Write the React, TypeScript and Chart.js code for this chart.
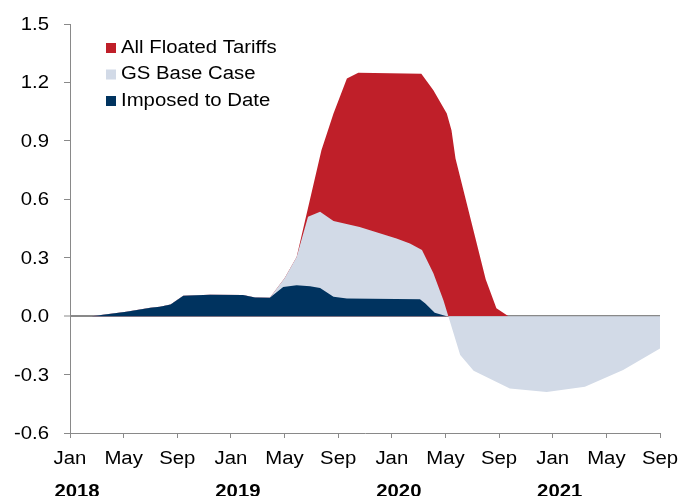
import React, { useEffect, useRef } from "react";
import { Chart, registerables } from "chart.js";

Chart.register(...registerables);

// x values are months since Jan 2018
const ALL_FLOATED_MONTHS = [1.6, 4.2, 6.0, 6.7, 7.5, 8.45, 10.45, 12.9, 13.8, 14.9, 16.0, 16.9, 18.75, 19.65, 20.65, 21.5, 26.2, 27.1, 28.1, 28.45, 28.75, 31.0, 31.8, 32.7];
const ALL_FLOATED_VALUES = [0, 0.022, 0.043, 0.048, 0.06, 0.105, 0.11, 0.108, 0.096, 0.094, 0.194, 0.304, 0.852, 1.04, 1.22, 1.25, 1.245, 1.16, 1.04, 0.955, 0.81, 0.19, 0.04, 0];

const BASE_CASE_MONTHS = [1.6, 4.2, 6.0, 6.7, 7.5, 8.45, 10.45, 12.9, 13.8, 14.9, 16.0, 16.9, 17.75, 18.65, 19.65, 21.6, 24.35, 25.35, 26.25, 27.1, 27.85, 29.1, 30.1, 32.8, 35.55, 38.4, 41.25, 44];
const BASE_CASE_VALUES = [0, 0.022, 0.043, 0.048, 0.06, 0.105, 0.11, 0.108, 0.096, 0.094, 0.194, 0.304, 0.51, 0.536, 0.489, 0.458, 0.399, 0.373, 0.339, 0.22, 0.082, -0.2, -0.28, -0.371, -0.389, -0.363, -0.277, -0.166];

const IMPOSED_MONTHS = [1.6, 4.2, 6.0, 6.7, 7.5, 8.45, 10.45, 12.9, 13.8, 14.9, 15.9, 16.9, 17.9, 18.65, 19.65, 20.65, 26.1, 26.5, 27.2, 28.1];
const IMPOSED_VALUES = [0, 0.022, 0.043, 0.048, 0.06, 0.105, 0.11, 0.108, 0.096, 0.094, 0.15, 0.159, 0.154, 0.145, 0.099, 0.091, 0.087, 0.065, 0.017, 0];

const SERIES_NAMES = ["All Floated Tariffs", "GS Base Case", "Imposed to Date"];
const SERIES_COLORS = ["#BF1F29", "#D2DAE7", "#00335F"];

const MONTH_TICK_LABELS = ["Jan", "May", "Sep", "Jan", "May", "Sep", "Jan", "May", "Sep", "Jan", "May", "Sep"];
const YEAR_LABELS = ["2018", "2019", "2020", "2021"];
const Y_TICKS = [-0.6, -0.3, 0, 0.3, 0.6, 0.9, 1.2, 1.5];

const X_MAX = 44;
const X_STEP = 4;
const AXIS_COLOR = "#898989";
const FONT_FAMILY = '"Liberation Sans", Arial, sans-serif';
const TEXT_STRETCH = 1.13;

function toPoints(xs: number[], ys: number[]) {
  return xs.map((x, i) => ({ x, y: ys[i] }));
}

function wideText(ctx: CanvasRenderingContext2D, text: string, x: number, y: number, align: CanvasTextAlign) {
  ctx.save();
  ctx.translate(x, y);
  ctx.scale(TEXT_STRETCH, 1);
  ctx.textAlign = align;
  ctx.fillText(text, 0, 0);
  ctx.restore();
}

const labelsPlugin = {
  id: "labelsPlugin",
  afterDraw(chart: any) {
    const { ctx, chartArea, scales } = chart;
    const xs = scales.x;
    const ys = scales.y;
    ctx.save();
    ctx.fillStyle = "#000";

    // value axis
    ctx.font = `18px ${FONT_FAMILY}`;
    ctx.textBaseline = "middle";
    Y_TICKS.forEach((v) => {
      wideText(ctx, v.toFixed(1), chartArea.left - 21, ys.getPixelForValue(v) + 1, "right");
    });

    // month labels
    MONTH_TICK_LABELS.forEach((m, i) => {
      wideText(ctx, m, xs.getPixelForValue(i * X_STEP), chartArea.bottom + 26, "center");
    });

    // year labels
    ctx.font = `bold 18px ${FONT_FAMILY}`;
    ctx.textBaseline = "alphabetic";
    YEAR_LABELS.forEach((yr, i) => {
      wideText(ctx, yr, xs.getPixelForValue(i * 12) + 7, chartArea.bottom + 64, "center");
    });

    // legend
    ctx.font = `18px ${FONT_FAMILY}`;
    ctx.textBaseline = "middle";
    SERIES_NAMES.forEach((name, i) => {
      const cy = 48 + i * 26.5;
      ctx.fillStyle = SERIES_COLORS[i];
      ctx.fillRect(106, cy - 5, 10, 10);
      ctx.fillStyle = "#000";
      wideText(ctx, name, 121, cy, "left");
    });
    ctx.restore();
  },
};

export default function App() {
  const canvasRef = useRef<HTMLCanvasElement | null>(null);

  useEffect(() => {
    if (!canvasRef.current) return;
    const area = (label: string, color: string, order: number, xs: number[], ys: number[]) => ({
      label,
      data: toPoints(xs, ys),
      backgroundColor: color,
      borderColor: color,
      borderWidth: 0,
      pointRadius: 0,
      fill: "origin",
      tension: 0,
      order,
    });

    const chart = new Chart(canvasRef.current, {
      type: "line",
      data: {
        datasets: [
          area(SERIES_NAMES[0], SERIES_COLORS[0], 2, ALL_FLOATED_MONTHS, ALL_FLOATED_VALUES),
          area(SERIES_NAMES[1], SERIES_COLORS[1], 1, BASE_CASE_MONTHS, BASE_CASE_VALUES),
          area(SERIES_NAMES[2], SERIES_COLORS[2], 0, IMPOSED_MONTHS, IMPOSED_VALUES),
        ],
      },
      options: {
        animation: false,
        responsive: false,
        layout: { padding: { left: 64, right: 21, top: 24, bottom: 58 } },
        plugins: { legend: { display: false }, tooltip: { enabled: false } },
        scales: {
          x: {
            type: "linear",
            min: 0,
            max: X_MAX,
            ticks: { display: false, stepSize: X_STEP },
            grid: { drawOnChartArea: false, drawTicks: true, tickLength: 5, color: AXIS_COLOR, tickColor: AXIS_COLOR },
            border: { display: true, color: AXIS_COLOR, width: 1 },
          },
          y: {
            min: Y_TICKS[0],
            max: Y_TICKS[Y_TICKS.length - 1],
            z: 1,
            ticks: { display: false, stepSize: 0.3 },
            grid: {
              drawOnChartArea: true,
              drawTicks: true,
              tickLength: 6,
              color: (c: any) => (Math.abs(c.tick?.value ?? 1) < 1e-9 ? AXIS_COLOR : "rgba(0,0,0,0)"),
              lineWidth: (c: any) => (Math.abs(c.tick?.value ?? 1) < 1e-9 ? 2 : 1),
              tickColor: AXIS_COLOR,
              tickWidth: 1,
            },
            border: { display: true, color: AXIS_COLOR, width: 1 },
          },
        },
      },
      plugins: [labelsPlugin],
    } as any);
    return () => chart.destroy();
  }, []);

  return (
    <div style={{ position: "fixed", left: 0, top: 0, width: 681, height: 496, background: "#fff" }}>
      <canvas ref={canvasRef} width={681} height={496} style={{ display: "block" }} />
    </div>
  );
}
